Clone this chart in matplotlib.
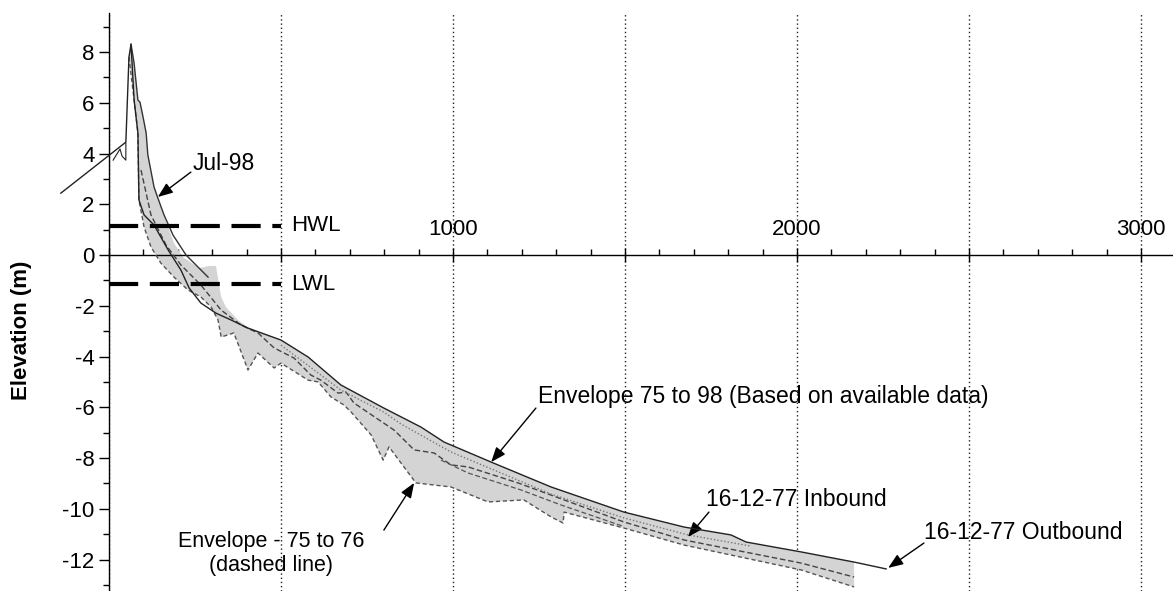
import numpy as np
import matplotlib
matplotlib.use("Agg")
import matplotlib.pyplot as plt
from matplotlib.ticker import MultipleLocator

plt.rcParams["font.family"] = ["Liberation Sans", "DejaVu Sans"]

# ---- Profile data: chainage (m) and elevation (m) ----
# Envelope 75 to 98, upper edge (from crest seaward)
env_top_x = [64, 73, 84, 90, 99, 108, 113, 131, 151, 172, 189, 215, 262, 291, 311,
             326, 340, 375, 404, 500, 579, 674, 799, 907, 974, 1111, 1285, 1497,
             1672, 1808, 1852, 2012, 2166]
env_top_y = [8.31, 7.56, 6.11, 6.03, 5.44, 4.81, 3.94, 2.68, 1.89, 1.10, 0.47, -0.08,
             -0.51, -0.43, -0.43, -1.65, -2.05, -2.56, -2.84, -3.35, -4.02, -5.12,
             -6.03, -6.78, -7.37, -8.16, -9.14, -10.13, -10.72, -11.03, -11.31,
             -11.70, -12.10]

# Envelope 75 to 98, lower edge
env_bot_x = [58, 73, 84, 87, 102, 122, 151, 189, 230, 267, 297, 317, 326, 363, 404,
             433, 480, 500, 579, 608, 645, 683, 704, 762, 797, 814, 892, 994, 1102,
             1206, 1285, 1320, 1323, 1497, 1672, 2012, 2166]
env_bot_y = [7.80, 6.11, 4.81, 2.17, 1.10, 0.32, -0.32, -0.87, -1.38, -1.65, -2.05,
             -2.56, -3.23, -3.07, -4.53, -3.86, -4.45, -4.26, -4.93, -5.00, -5.59,
             -5.91, -6.19, -7.09, -8.08, -7.56, -8.98, -9.14, -9.73, -9.65, -10.32,
             -10.56, -10.13, -10.76, -11.43, -12.41, -13.08]

# 16-12-77 outbound survey
outbound_x = [-140, 49, 58, 64, 73, 84, 87, 102, 131, 172, 209, 233, 267, 311, 355,
              404, 500, 579, 674, 799, 907, 974, 1111, 1285, 1497, 1672, 1808, 1852,
              2012, 2166, 2259]
outbound_y = [2.44, 4.45, 7.80, 8.31, 6.11, 4.81, 2.17, 1.58, 1.18, 0.20, -0.59,
              -1.30, -1.89, -2.29, -2.56, -2.88, -3.35, -4.02, -5.12, -6.03, -6.78,
              -7.37, -8.16, -9.14, -10.13, -10.72, -11.03, -11.31, -11.70, -12.10,
              -12.37]

# Jul-98 survey
jul98_x = [64, 73, 84, 90, 99, 108, 113, 131, 142, 160, 186, 224, 288]
jul98_y = [8.31, 7.56, 6.11, 6.03, 5.44, 4.81, 3.94, 2.68, 2.25, 1.58, 0.79, 0.00, -0.87]

# Envelope 75 to 76, upper dashed edge
env76_x = [93, 122, 166, 209, 267, 326, 384, 433, 480, 538, 587, 616, 666, 689, 712,
           829, 887, 945, 994, 1044, 1189, 1497, 1672, 2012, 2166]
env76_y = [3.35, 1.58, 0.39, -0.39, -1.18, -2.17, -2.76, -3.07, -3.66, -4.06, -4.73,
           -4.93, -5.44, -5.40, -5.83, -6.90, -7.68, -7.80, -8.27, -8.35, -8.98,
           -10.52, -11.23, -12.14, -12.69]

# Intermediate 75-76 profile
mid76_x = [965, 1044, 1198, 1314, 1497]
mid76_y = [-8.08, -8.59, -9.26, -9.85, -10.70]

# 16-12-77 inbound survey
inbound_x = [500, 674, 799, 849, 994, 1285, 1497, 1683, 1866]
inbound_y = [-3.55, -5.32, -6.19, -6.66, -7.76, -9.42, -10.36, -11.03, -11.47]

# Landward crest detail
crest_x = [12, 32, 38, 49, 49]
crest_y = [3.74, 4.18, 3.90, 3.74, 4.41]

HWL = 1.15
LWL = -1.15
WL_END = 500
XTICK_LABELS = [1000, 2000, 3000]

# ---- Figure ----
fig = plt.figure(figsize=(11.73, 5.91), dpi=100)
ax = fig.add_axes([109 / 1173, 0.0, 1064 / 1173, 578 / 591])
ax.set_xlim(0, 3093)

for side in ("top", "right"):
    ax.spines[side].set_visible(False)
ax.spines["bottom"].set_position(("data", 0))
ax.spines["left"].set_linewidth(1.0)
ax.spines["bottom"].set_linewidth(1.0)

ax.xaxis.set_major_locator(MultipleLocator(500))
ax.xaxis.set_minor_locator(MultipleLocator(100))
ax.yaxis.set_minor_locator(MultipleLocator(1))
ax.set_xticklabels([])
ax.tick_params(axis="x", which="major", direction="inout", length=10, width=1.0)
ax.tick_params(axis="x", which="minor", direction="in", length=4, width=1.0)
ax.tick_params(axis="y", which="major", direction="out", length=7, width=1.0,
               labelsize=16)
ax.tick_params(axis="y", which="minor", direction="out", length=4, width=1.0)
ax.set_yticks(np.arange(-12, 9, 2))
ax.set_yticklabels([f"{v:d}" for v in range(-12, 9, 2)])
ax.set_ylim(-13.24, 9.54)

ax.grid(axis="x", which="major", linestyle=(0, (1, 2)), color="#222222", lw=1.0)
ax.set_axisbelow(True)

for v in XTICK_LABELS:
    ax.text(v, 1.0, f"{v}", ha="center", va="center", fontsize=16)

# Envelope fill
poly_x = np.concatenate([env_top_x, env_bot_x[::-1]])
poly_y = np.concatenate([env_top_y, env_bot_y[::-1]])
ax.fill(poly_x, poly_y, color="#d4d4d4", lw=0, zorder=2)
ax.plot(env_bot_x, env_bot_y, color="#555555", lw=1.0, ls=(0, (3, 2)), zorder=3)

# Profiles
ax.plot(env76_x, env76_y, color="#444444", lw=1.0, ls=(0, (4, 2)), zorder=3)
ax.plot(mid76_x, mid76_y, color="#555555", lw=0.9, ls=(0, (4, 2)), zorder=3)
ax.plot(inbound_x, inbound_y, color="#777777", lw=1.0, ls=(0, (1, 1.5)), zorder=3)
ax.plot(jul98_x, jul98_y, color="#333333", lw=1.0, zorder=4)
ax.plot(outbound_x, outbound_y, color="#222222", lw=1.0, zorder=4, clip_on=False)
ax.plot(crest_x, crest_y, color="#222222", lw=0.8, zorder=4)

# Water levels
for lvl, name in ((HWL, "HWL"), (LWL, "LWL")):
    ax.plot([0, WL_END], [lvl, lvl], color="black", lw=3, ls=(0, (7, 2.8)),
            solid_capstyle="butt", dash_capstyle="butt", zorder=5)
    ax.text(529, lvl, name, ha="left", va="center", fontsize=16)

fig.text(22 / 1173, 1 - 330 / 591, "Elevation (m)", rotation=90, fontsize=16,
         fontweight="bold", ha="center", va="center")

arrow = dict(arrowstyle="-|>,head_length=0.9,head_width=0.35", color="black",
             lw=1.0, shrinkA=0, shrinkB=0)
LABEL_SIZE = 16.5

ax.text(244, 3.62, "Jul-98", fontsize=LABEL_SIZE, ha="left", va="center")
ax.annotate("", xy=(142, 2.29), xytext=(238, 3.27), arrowprops=arrow)

ax.text(1247, -5.56, "Envelope 75 to 98 (Based on available data)",
        fontsize=LABEL_SIZE, ha="left", va="center")
ax.annotate("", xy=(1111, -8.16), xytext=(1241, -6.03), arrowprops=arrow)

ax.text(471, -11.76, "Envelope - 75 to 76\n(dashed line)", fontsize=15.5,
        ha="center", va="center", multialignment="center", linespacing=1.15)
ax.annotate("", xy=(887, -8.98), xytext=(799, -10.84), arrowprops=arrow)

ax.text(1736, -9.65, "16-12-77 Inbound", fontsize=LABEL_SIZE, ha="left", va="center")
ax.annotate("", xy=(1683, -11.11), xytext=(1744, -10.13), arrowprops=arrow)

ax.text(2369, -10.95, "16-12-77 Outbound", fontsize=LABEL_SIZE, ha="left",
        va="center")
ax.annotate("", xy=(2265, -12.33), xytext=(2369, -11.35), arrowprops=arrow)

fig.savefig("out.png", dpi=100)
